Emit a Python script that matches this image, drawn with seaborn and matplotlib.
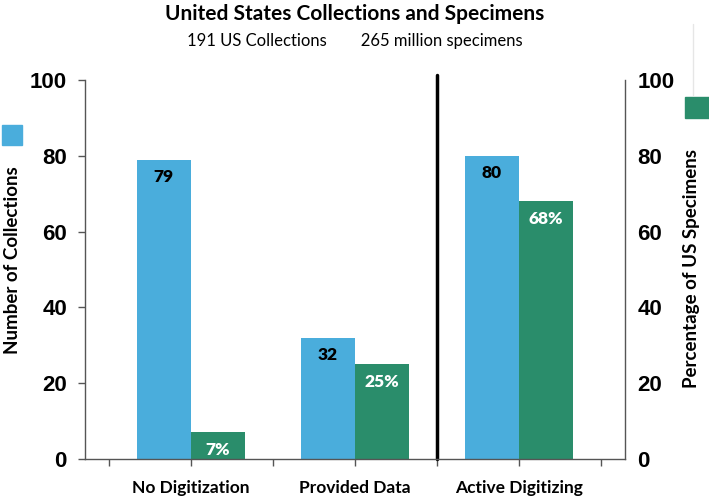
import pandas as pd
import seaborn as sns
import matplotlib.pyplot as plt
from matplotlib.patches import Rectangle
from matplotlib.lines import Line2D

categories = ['No Digitization', 'Provided Data', 'Active Digitizing']
collections = [79, 32, 80]
pct_specimens = [7, 25, 68]
collection_labels = ['79', '32', '80']
pct_labels = ['7%', '25%', '68%']

blue = '#4aaddc'
green = '#2a8d6b'

# long form table for seaborn
df = pd.DataFrame({
    'category': categories * 2,
    'value': collections + pct_specimens,
    'series': ['Number of Collections'] * 3 + ['Percentage of US Specimens'] * 3,
})

sns.set_style('white')
plt.rcParams['font.family'] = ['Lato', 'DejaVu Sans']
plt.rcParams['text.color'] = 'black'

fig = plt.figure(figsize=(7.09, 4.97), dpi=100)
ax = fig.add_axes([85 / 709, 1 - 459 / 497, 540 / 709, 379 / 497])

sns.barplot(data=df, x='category', y='value', hue='series', palette=[blue, green],
            width=0.66, saturation=1, legend=False, linewidth=0, ax=ax)

ax.set_ylim(0, 100)
ax.set_xlim(-0.646, 2.646)
ax.set_xlabel('')
ax.set_ylabel('')

# bar value labels inside the top of each bar
for cont, labels, col in zip(ax.containers, [collection_labels, pct_labels], ['black', 'white']):
    for bar, lab in zip(cont, labels):
        ax.text(bar.get_x() + bar.get_width() / 2, bar.get_height() - 4.6, lab,
                ha='center', va='center', color=col, fontsize=12.5, fontweight='heavy')

# divider between provided data and active digitizing
ax.axvline(1.5, ymin=0, ymax=1.013, color='black', lw=2.5, clip_on=False)

# x ticks: category centres plus boundaries
ax.set_xticks([-0.5, 0, 0.5, 1, 1.5, 2, 2.5])
ax.set_xticklabels(['', categories[0], '', categories[1], '', categories[2], ''],
                   fontsize=12.5, fontweight='bold', color='black')
ax.tick_params(axis='x', direction='out', length=5, width=1, color='#555555', pad=10, bottom=True)

ax.set_yticks(range(0, 101, 20))
ax.set_yticklabels([str(v) for v in range(0, 101, 20)], family='Liberation Sans',
                   fontsize=16, fontweight='bold', color='black')
ax.tick_params(axis='y', direction='out', length=5, width=1, color='#555555', pad=8, left=True)

for s in ['top', 'right']:
    ax.spines[s].set_visible(False)
for s in ['left', 'bottom']:
    ax.spines[s].set_color('#555555')
    ax.spines[s].set_linewidth(1)

ax2 = ax.twinx()
ax2.set_ylim(0, 100)
ax2.set_yticks(range(0, 101, 20))
ax2.set_yticklabels([str(v) for v in range(0, 101, 20)], family='Liberation Sans',
                    fontsize=16, fontweight='bold', color='black')
ax2.tick_params(axis='y', length=0, pad=9, right=True)
for s in ['top', 'left', 'bottom']:
    ax2.spines[s].set_visible(False)
ax2.spines['right'].set_color('#555555')
ax2.spines['right'].set_linewidth(1)

# axis titles
fig.text(13 / 709, 1 - 260 / 497, 'Number of Collections', rotation=90,
         ha='center', va='center', fontsize=13.5, fontweight='bold')
fig.text(692 / 709, 1 - 268 / 497, 'Percentage of US Specimens', rotation=90,
         ha='center', va='center', fontsize=13.5, fontweight='bold')

# legend swatches next to the axis titles
fig.patches.append(Rectangle((2 / 709, 1 - 145 / 497), 20 / 709, 20 / 497,
                             transform=fig.transFigure, color=blue, figure=fig))
fig.patches.append(Rectangle((685 / 709, 1 - 118 / 497), 24 / 709, 21 / 497,
                             transform=fig.transFigure, color=green, figure=fig))

# faint frame edge on the right, above the swatch
fig.add_artist(Line2D([693 / 709, 693 / 709], [1 - 95 / 497, 1 - 24 / 497],
                      transform=fig.transFigure, color='#e6e6e6', lw=1))

fig.text(0.5, 1 - 14 / 497, 'United States Collections and Specimens', ha='center',
         va='center', fontsize=15, fontweight='bold')
fig.text(0.5, 1 - 41 / 497, '191 US Collections        265 million specimens', ha='center',
         va='center', fontsize=12)

fig.savefig('out.png', dpi=100)
